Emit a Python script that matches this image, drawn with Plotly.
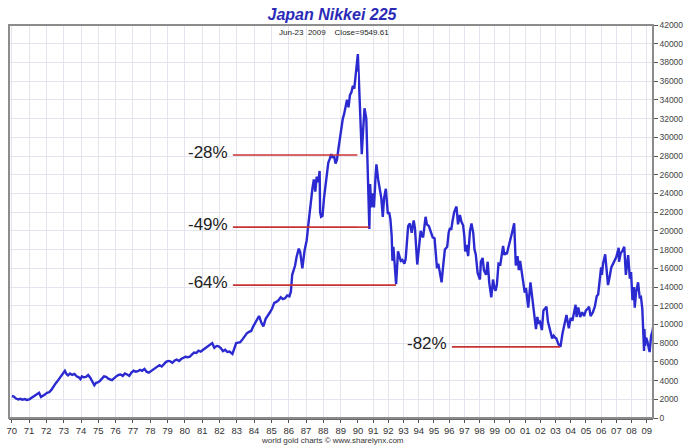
import plotly.graph_objects as go
import pandas as pd

# ---------------- data ----------------
dates = [
    "1970-01-05","1970-02-15","1970-04-01","1970-05-20","1970-07-01","1970-08-15","1970-10-01","1970-11-15",
    "1971-01-05","1971-02-15","1971-04-01","1971-05-15","1971-07-01","1971-08-01","1971-09-10","1971-10-20","1971-12-01",
    "1972-01-15","1972-03-01","1972-04-15","1972-06-01","1972-07-15","1972-09-01","1972-10-15","1972-12-01",
    "1973-01-10","1973-01-25","1973-03-01","1973-04-01","1973-05-15","1973-07-01","1973-08-15","1973-10-01","1973-11-15","1973-12-20",
    "1974-01-20","1974-03-01","1974-04-15","1974-06-01","1974-07-15","1974-09-01","1974-10-10","1974-11-15","1974-12-20",
    "1975-02-01","1975-03-15","1975-05-01","1975-06-15","1975-08-01","1975-10-15","1975-12-01",
    "1976-01-15","1976-03-01","1976-04-15","1976-06-01","1976-07-15","1976-09-01","1976-10-15","1976-12-01",
    "1977-01-15","1977-03-01","1977-04-15","1977-06-01","1977-07-15","1977-09-01","1977-10-15","1977-12-01",
    "1978-01-15","1978-03-01","1978-04-15","1978-06-01","1978-07-15","1978-09-01","1978-10-15","1978-12-01",
    "1979-01-15","1979-03-01","1979-04-15","1979-06-01","1979-07-15","1979-09-01","1979-10-15","1979-12-01",
    "1980-01-15","1980-03-01","1980-04-15","1980-06-01","1980-07-15","1980-09-01","1980-10-15","1980-12-01",
    "1981-01-15","1981-03-01","1981-04-15","1981-06-01","1981-08-01","1981-09-15","1981-11-01","1981-12-15",
    "1982-02-01","1982-03-15","1982-05-01","1982-06-15","1982-08-01","1982-10-01","1982-11-15","1982-12-20",
    "1983-02-01","1983-03-15","1983-05-01","1983-06-15","1983-08-01","1983-09-15","1983-11-01","1983-12-15",
    "1984-01-15","1984-03-01","1984-04-15","1984-06-01","1984-07-15","1984-09-01","1984-10-15","1984-12-01",
    "1985-01-15","1985-03-01","1985-04-15","1985-06-01","1985-07-15","1985-09-01","1985-10-15","1985-12-01",
    "1986-01-15","1986-02-15","1986-03-15","1986-04-15","1986-05-15","1986-06-15","1986-08-01","1986-09-01","1986-10-15","1986-12-01",
    "1987-01-15","1987-02-15","1987-03-15","1987-04-15","1987-05-15","1987-06-15","1987-07-15","1987-08-15","1987-09-15","1987-10-15","1987-10-25","1987-11-15","1987-12-15",
    "1988-01-15","1988-02-15","1988-03-15","1988-04-15","1988-05-15","1988-06-15","1988-07-15","1988-08-15","1988-09-15","1988-10-15","1988-11-15","1988-12-15",
    "1989-01-15","1989-02-15","1989-03-15","1989-04-15","1989-05-15","1989-06-15","1989-07-15","1989-08-15","1989-09-15","1989-10-15","1989-11-15","1989-12-29",
    "1990-01-15","1990-02-10","1990-02-28","1990-04-02","1990-05-01","1990-06-07","1990-07-20","1990-08-25","1990-09-15","1990-10-01","1990-10-20","1990-11-15","1990-12-15",
    "1991-01-20","1991-03-01","1991-03-20","1991-05-01","1991-06-15","1991-07-15","1991-08-20","1991-09-20","1991-11-01","1991-12-20",
    "1992-01-20","1992-02-20","1992-03-20","1992-04-08","1992-05-01","1992-06-01","1992-07-05","1992-08-20","1992-09-20","1992-10-25","1992-12-01",
    "1993-01-20","1993-02-20","1993-03-20","1993-04-20","1993-06-01","1993-07-15","1993-09-01","1993-10-01","1993-11-25","1993-12-20",
    "1994-01-20","1994-02-15","1994-03-15","1994-04-15","1994-06-13","1994-07-15","1994-09-01","1994-10-15","1994-12-01",
    "1995-01-15","1995-02-01","1995-03-15","1995-04-15","1995-05-15","1995-07-03","1995-08-15","1995-09-20","1995-11-15","1995-12-20",
    "1996-01-20","1996-02-20","1996-03-20","1996-05-01","1996-06-25","1996-08-01","1996-09-15","1996-10-20","1996-12-01","1996-12-31",
    "1997-01-20","1997-02-20","1997-04-01","1997-05-15","1997-06-20","1997-08-01","1997-09-01","1997-10-01","1997-11-15","1997-12-20",
    "1998-01-10","1998-02-01","1998-03-15","1998-04-15","1998-06-05","1998-07-15","1998-08-20","1998-10-09","1998-11-20","1998-12-30",
    "1999-01-20","1999-02-20","1999-04-01","1999-05-15","1999-06-20","1999-07-20","1999-08-20","1999-09-15","1999-10-15","1999-12-01","1999-12-30",
    "2000-01-20","2000-02-20","2000-04-12","2000-05-20","2000-07-01","2000-08-01","2000-09-01","2000-10-15","2000-12-21",
    "2001-01-20","2001-03-15","2001-05-07","2001-06-15","2001-08-01","2001-09-17","2001-10-20","2001-11-15","2001-12-20",
    "2002-02-06","2002-03-15","2002-05-27","2002-07-01","2002-08-01","2002-09-01","2002-10-10","2002-11-15","2002-12-20",
    "2003-01-20","2003-03-10","2003-04-28","2003-06-15","2003-08-20","2003-09-20","2003-11-15","2003-12-30",
    "2004-02-10","2004-04-26","2004-05-20","2004-06-30","2004-08-15","2004-10-01","2004-11-15","2004-12-30",
    "2005-02-15","2005-03-15","2005-04-21","2005-06-15","2005-08-01","2005-09-15","2005-10-20","2005-12-30",
    "2006-01-18","2006-02-15","2006-04-07","2006-06-14","2006-07-20","2006-09-01","2006-10-15","2006-12-30",
    "2007-02-26","2007-03-05","2007-04-15","2007-06-01","2007-07-09","2007-08-17","2007-10-11","2007-11-21","2007-12-20",
    "2008-01-22","2008-02-27","2008-03-17","2008-04-20","2008-06-06","2008-07-15","2008-08-15","2008-09-16","2008-10-08","2008-10-27","2008-11-05","2008-11-20","2008-12-15",
    "2009-01-15","2009-02-20","2009-03-10","2009-04-15","2009-05-20","2009-06-12","2009-06-23",
]
closes = [
    2350,2280,2080,1980,2050,1960,2020,1930,
    2000,2150,2250,2400,2600,2700,2250,2350,2500,
    2700,2750,3000,3400,3700,4000,4300,4700,
    4950,5050,4700,4550,4750,4600,4700,4450,4350,4150,
    4450,4350,4400,4600,4300,3900,3500,3750,3800,
    3950,4200,4450,4400,4200,4050,4300,
    4450,4600,4650,4500,4750,4650,4500,4850,
    5050,4950,5000,5150,5050,5250,4950,4850,
    5000,5200,5350,5550,5650,5500,5750,6000,
    6100,6050,5900,6150,6250,6100,6300,6450,
    6550,6500,6550,6800,7000,6950,7200,7100,
    7250,7450,7600,7800,8000,7500,7700,7650,
    7450,7150,7300,7050,7100,6850,7400,8000,
    8050,8100,8400,8700,9050,9200,9300,9800,
    10100,10400,10900,10200,9800,10600,10900,11300,
    11700,12300,12400,12600,12900,12700,12800,13100,
    13000,13500,15300,15800,16300,17200,18100,17700,16000,17900,
    19000,20500,21800,23500,24500,25500,24200,25800,25200,26400,22000,21500,21600,
    23500,24800,25800,27300,27700,28200,27800,28000,27200,27600,28800,30000,
    31000,32000,32500,33500,34000,33200,34500,34800,35500,35200,37000,38900,
    37000,35500,33000,28200,30500,33100,32000,25500,23500,20200,25000,22500,24000,
    22500,26000,27100,25500,24000,23500,21500,23500,24500,21800,
    22000,21200,19500,16800,18300,16500,14300,17800,17200,16800,16900,
    16500,17000,18500,20500,20800,19800,21100,20300,16400,17400,
    18500,20000,19500,19300,21500,20700,20500,19800,19300,
    19200,18000,16000,16500,15800,14500,16500,18000,18300,19800,
    20300,20100,21000,22000,22600,20700,21700,21000,20600,19400,
    17800,18500,17300,20000,20800,19800,18000,17500,15500,15000,
    14800,16700,17100,15800,15300,16700,14500,12900,14800,13800,
    13600,14200,16500,16400,17400,18400,17400,17700,17500,18300,18900,
    19000,19800,20800,16300,17300,15800,16800,15300,13400,
    13900,11800,14500,13000,11700,9500,10800,10200,10300,
    9400,11500,11900,10300,9600,9200,8500,8800,8600,
    8500,7900,7600,9000,10600,11000,9600,10700,
    10400,12100,10800,11800,10800,11300,10900,11500,
    11700,11900,10900,11300,11900,13000,13200,16100,
    15300,16500,17500,14200,15000,16100,16500,17200,
    18200,16700,17600,17900,18300,15300,17400,14900,15600,
    12600,14000,11800,13500,14500,12800,12900,11600,9200,7160,9500,7700,8600,
    8200,7400,7050,8800,9300,10100,9550,
]

# tick labels (two-digit years)
years_early = list(range(1970, 1990))
years_late = list(range(1990, 2010))

# drawdown markers: label, level, start date, end date
dd_labels = ["-28%", "-49%", "-64%", "-82%"]
dd_levels = [28100, 20400, 14200, 7600]
dd_starts = ["1982-10-12", "1982-10-12", "1982-10-12", "1996-03-06"]
dd_ends = ["1989-12-20", "1990-09-25", "1992-07-01", "2003-04-15"]

# ---------------- figure ----------------
BREAK = "1990-01-01"
df = pd.DataFrame({"d": pd.to_datetime(dates), "v": closes})
brk = pd.Timestamp(BREAK)
i_first_late = int((df["d"] >= brk).idxmax())
early = df.iloc[: i_first_late + 1]
late = df.iloc[i_first_late - 1:]

LINE = dict(color="#2a2ad0", width=2.4)
fig = go.Figure()
fig.add_trace(go.Scatter(x=early["d"], y=early["v"], mode="lines", line=LINE,
                         xaxis="x", yaxis="y", showlegend=False, hoverinfo="skip"))
fig.add_trace(go.Scatter(x=late["d"], y=late["v"], mode="lines", line=LINE,
                         xaxis="x2", yaxis="y", showlegend=False, hoverinfo="skip"))

DOM = 0.5419
GRID = "#e4e4ee"
TICKF = dict(family="Liberation Sans, Arial, sans-serif", size=9.5, color="#333333")
common_x = dict(type="date", showgrid=True, gridcolor=GRID, gridwidth=1,
                ticks="outside", ticklen=3, tickcolor="#555555",
                showline=True, linecolor="#666666", linewidth=1.5,
                tickfont=TICKF, zeroline=False, fixedrange=True, automargin=False)
fig.update_layout(
    width=686, height=445,
    margin=dict(l=9, r=33, t=25, b=27, autoexpand=False),
    paper_bgcolor="white", plot_bgcolor="white",
    xaxis=dict(domain=[0, DOM], range=["1969-11-04", BREAK],
               tickvals=[f"{y}-01-01" for y in years_early],
               ticktext=[f"{y % 100:02d}" for y in years_early], **common_x),
    xaxis2=dict(domain=[DOM, 1], range=[BREAK, "2009-05-30"], anchor="y",
                tickvals=[f"{y}-01-01" for y in years_late],
                ticktext=[f"{y % 100:02d}" for y in years_late], **common_x),
    yaxis=dict(range=[0, 42000], dtick=2000, tick0=0, tickformat="d",
               side="right", anchor="free", position=1.0,
               showgrid=True, gridcolor=GRID, gridwidth=1,
               ticks="outside", ticklen=4, tickcolor="#555555",
               showline=True, linecolor="#666666", linewidth=1.5,
               tickfont=dict(family="Liberation Sans, Arial, sans-serif", size=8.5, color="#444444"),
               zeroline=False, fixedrange=True, automargin=False),
    title=dict(text="<b><i>Japan Nikkei 225</i></b>", x=0.484, xref="container",
               y=1 - 14 / 445, yref="container", xanchor="center", yanchor="middle",
               font=dict(family="Liberation Sans, Arial, sans-serif", size=16, color="#2b2bb8")),
)

# frame
fig.add_shape(type="rect", xref="paper", yref="paper", x0=0, x1=1, y0=0, y1=1,
              line=dict(color="#8c8c8c", width=2), layer="above")

# drawdown lines and labels
RED = dict(color="#c83232", width=1.6)
LBLF = dict(family="Liberation Sans Narrow, Liberation Sans, Arial, sans-serif", size=17, color="#222222")
for lab, lev, s, e in zip(dd_labels, dd_levels, dd_starts, dd_ends):
    sd, ed = pd.Timestamp(s), pd.Timestamp(e)
    if sd < brk and ed > brk:
        fig.add_shape(type="line", xref="x", yref="y", x0=s, x1=BREAK, y0=lev, y1=lev, line=RED)
        fig.add_shape(type="line", xref="x2", yref="y", x0=BREAK, x1=e, y0=lev, y1=lev, line=RED)
    else:
        xr = "x" if ed <= brk else "x2"
        fig.add_shape(type="line", xref=xr, yref="y", x0=s, x1=e, y0=lev, y1=lev, line=RED)
    xr0 = "x" if sd < brk else "x2"
    fig.add_annotation(x=s, y=lev, xref=xr0, yref="y", text=lab, showarrow=False,
                       xanchor="right", yanchor="middle", xshift=-3, yshift=3, font=LBLF)

# subtitle and footer
fig.add_annotation(x=0.505, y=1, xref="paper", yref="paper", yanchor="top", yshift=-1,
                   text="Jun-23  2009    Close=9549.61", showarrow=False,
                   font=dict(family="Liberation Sans, Arial, sans-serif", size=8, color="#222222"))
fig.add_annotation(x=0.503, y=0, xref="paper", yref="paper", yanchor="middle", yshift=-22,
                   text="world gold charts © www.sharelynx.com", showarrow=False,
                   font=dict(family="Liberation Sans, Arial, sans-serif", size=8, color="#333333"))

fig.write_html("out.html", config={"displayModeBar": False},
               post_script="document.body.style.margin='0';document.body.style.overflow='hidden';")
